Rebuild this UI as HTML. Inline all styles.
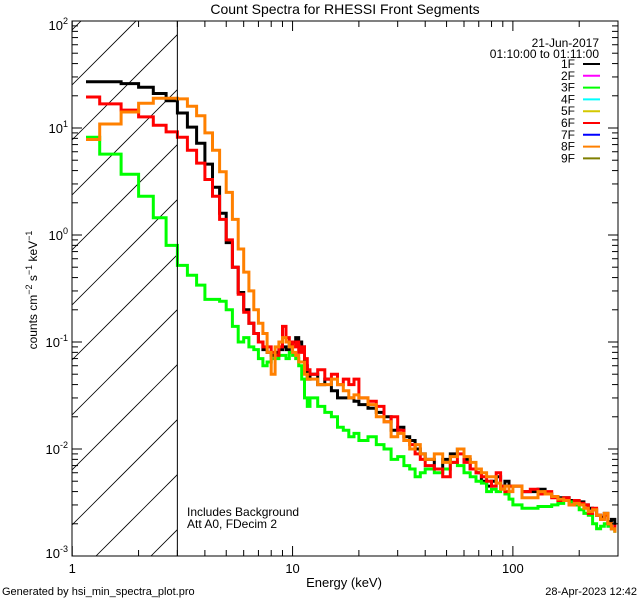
<!DOCTYPE html>
<html><head><meta charset="utf-8"><style>
html,body{margin:0;padding:0;background:#fff;width:640px;height:600px;overflow:hidden;}
svg{display:block;font-family:"Liberation Sans",sans-serif;}
</style></head><body>
<svg id="chart" width="640" height="600" viewBox="0 0 640 600" xmlns="http://www.w3.org/2000/svg" overflow="hidden">
<defs><clipPath id="hclip"><rect x="72" y="21" width="105" height="535"/></clipPath>
<clipPath id="pclip"><rect x="72" y="21" width="546" height="535"/></clipPath></defs>
<rect width="640" height="600" fill="#fff"/>
<text x="345" y="14" text-anchor="middle" font-size="14">Count Spectra for RHESSI Front Segments</text>
<g id="hatch" clip-path="url(#hclip)"></g>
<g id="series" clip-path="url(#pclip)"></g>
<g id="axes"></g>
<text x="599" y="47" text-anchor="end" font-size="12">21-Jun-2017</text>
<text x="599" y="58" text-anchor="end" font-size="12">01:10:00 to 01:11:00</text>
<g id="legend"></g>
<text x="187" y="516" font-size="12">Includes Background</text>
<text x="187" y="528" font-size="12">Att A0, FDecim 2</text>
<text x="344" y="587" text-anchor="middle" font-size="13">Energy (keV)</text>
<text transform="translate(37,290) rotate(-90)" text-anchor="middle" font-size="12">counts cm<tspan dy="-5" font-size="9">−2</tspan><tspan dy="5"> s</tspan><tspan dy="-5" font-size="9">−1</tspan><tspan dy="5"> keV</tspan><tspan dy="-5" font-size="9">−1</tspan></text>
<text x="2" y="595" font-size="11">Generated by hsi_min_spectra_plot.pro</text>
<text x="637" y="595" text-anchor="end" font-size="11">28-Apr-2023 12:42</text>
</svg>
<script>
const edges=[1,1.333,1.667,2,2.333,2.667,3,3.333,3.667,4,4.333,4.667,5,5.333,5.667,6,6.333,6.667,7,7.333,7.667,8,8.333,8.667,9,9.333,9.667,10,10.333,10.667,11,11.333,11.667,12,
13,14,15,16,17,18,19,20,22,24,26,28,30,32,34,36,38,40,44,48,52,56,60,64,68,72,76,80,84,88,92,96,100,
110,120,130,140,150,160,170,180,190,200,210,220,230,240,250,260,270,280,290,300];
const seriesNames=["1F","2F","3F","4F","5F","6F","7F","8F","9F"];
const seriesColors=["#000","#ff00ff","#00ff00","#00ffff","#d4c800","#ff0000","#0000ff","#ff8000","#7f7f00"];
const black=[27,27,26,24,21,18,13.8,10.2,7.2,4.6,2.8,1.6,0.85,0.5,0.29,0.2,0.15,0.12,0.1,0.085,0.08,0.075,0.08,0.085,0.09,0.085,0.095,0.1,0.11,0.1,0.09,0.06,0.045,
0.05,0.04,0.045,0.035,0.03,0.03,0.03,0.028,
0.026,0.024,0.022,0.02,0.015,0.016,0.013,0.012,0.01,0.009,
0.008,0.0065,0.008,0.009,0.01,0.008,0.0065,0.006,0.005,0.0045,0.005,0.0055,0.0045,0.005,0.0045,
0.0045,0.004,0.004,0.0042,0.0038,0.0036,0.0035,0.0035,0.0033,0.003,0.0032,0.003,0.0028,0.0027,0.0024,0.0023,0.0025,0.0021,0.0022,0.002];
const green=[8.2,5.7,3.7,2.3,1.45,0.8,0.52,0.42,0.34,0.25,0.25,0.24,0.2,0.14,0.1,0.11,0.09,0.085,0.07,0.06,0.065,0.07,0.07,0.075,0.075,0.07,0.08,0.075,0.07,0.06,0.045,0.03,0.025,
0.03,0.025,0.022,0.02,0.016,0.015,0.013,0.014,
0.012,0.013,0.011,0.01,0.008,0.0085,0.007,0.0065,0.0055,0.006,
0.0065,0.006,0.0065,0.0075,0.007,0.006,0.0055,0.005,0.0048,0.004,0.0042,0.004,0.0045,0.0038,0.0034,
0.003,0.0028,0.0028,0.0029,0.0029,0.003,0.0031,0.0033,0.0032,0.003,0.0027,0.0025,0.0024,0.002,0.0018,0.0019,0.002,0.0019,0.0018,0.0017];
const red=[19.5,16.8,14.7,12.7,10.6,9.2,8.2,6.2,4.7,3.3,2.3,1.4,0.9,0.5,0.28,0.19,0.15,0.12,0.1,0.09,0.09,0.08,0.075,0.09,0.14,0.11,0.1,0.09,0.1,0.08,0.09,0.07,0.055,
0.05,0.055,0.045,0.05,0.04,0.045,0.04,0.045,
0.03,0.028,0.025,0.018,0.02,0.015,0.012,0.011,0.009,0.008,
0.007,0.0065,0.0055,0.0075,0.009,0.0075,0.0065,0.006,0.0055,0.005,0.0045,0.006,0.0045,0.004,0.0045,
0.0045,0.004,0.0042,0.0038,0.004,0.0035,0.0033,0.0035,0.003,0.0033,0.0031,0.003,0.0025,0.0028,0.0024,0.0022,0.0024,0.002,0.0018,0.0019];
const orange=[7.8,10.9,14.1,17,19,19,18.7,16,13,9,6.2,3.9,2.5,1.4,0.74,0.45,0.3,0.2,0.15,0.12,0.08,0.05,0.09,0.1,0.11,0.1,0.09,0.08,0.075,0.065,0.065,0.05,0.045,
0.045,0.04,0.04,0.045,0.04,0.035,0.03,0.032,
0.03,0.026,0.02,0.018,0.013,0.014,0.012,0.01,0.011,0.009,
0.008,0.009,0.0075,0.0085,0.01,0.0085,0.0075,0.0065,0.006,0.0055,0.0055,0.0048,0.0042,0.0045,0.004,
0.0045,0.0035,0.0035,0.004,0.0038,0.0036,0.0034,0.0033,0.003,0.0031,0.003,0.0028,0.0026,0.0027,0.0024,0.0022,0.0025,0.002,0.0018,0.0017];
const plotted=[{name:"1F",vals:black,color:"#000"},{name:"3F",vals:green,color:"#00ff00"},{name:"6F",vals:red,color:"#ff0000"},{name:"8F",vals:orange,color:"#ff8000"}];
const xTicks=[1,10,100];const xTickLabels=["1","10","100"];
const yTickExps=[-3,-2,-1,0,1,2];
const attenEdge=3;

const X0=72,X1=618,Y0=21,Y1=556;
const xmin=Math.log10(0.9975),xmax=Math.log10(300);
const ymin=-3,ymax=2;
const sx=e=>X0+(Math.log10(e)-xmin)/(xmax-xmin)*(X1-X0);
const sy=v=>Y1-(Math.log10(v)-ymin)/(ymax-ymin)*(Y1-Y0);
const NS="http://www.w3.org/2000/svg";
function mk(tag,attrs,parent){const el=document.createElementNS(NS,tag);for(const k in attrs)el.setAttribute(k,attrs[k]);parent.appendChild(el);return el;}

const hatch=document.getElementById('hatch');
for(let i=-2;i<12;i++){const y=85+i*55;
 const l=mk('line',{x1:X0,y1:y,x2:X0+110,y2:y-110,stroke:'#000','stroke-width':0.8},hatch);
 
 }
const ax=document.getElementById('axes');
const vl=mk('line',{x1:sx(attenEdge),y1:Y0,x2:sx(attenEdge),y2:Y1,stroke:'#000','stroke-width':1},ax);



const sg=document.getElementById('series');
plotted.forEach(s=>{
 let d='';
 for(let i=0;i<s.vals.length;i++){
  const c0=Math.sqrt(edges[i]*edges[i+1]);
  const xa=i===0?sx(c0):sx(edges[i]);
  const xb=i===s.vals.length-1?sx(c0):sx(edges[i+1]);
  const y=sy(s.vals[i]);
  d+=(i===0?'M':'L')+xa.toFixed(1)+','+y.toFixed(1)+'L'+xb.toFixed(1)+','+y.toFixed(1);
 }
 const p=mk('path',{d:d,fill:'none',stroke:s.color,'stroke-width':3,'stroke-linejoin':'miter'},sg);
 
 
});

const fr=mk('rect',{x:X0,y:Y0,width:X1-X0,height:Y1-Y0,fill:'none',stroke:'#000','stroke-width':1},ax);


for(let dec=0;dec<=2;dec++){for(let m=1;m<=9;m++){const e=m*Math.pow(10,dec);if(e>300)break;
 const x=sx(e);const len=m===1?10:6;
 const t1=mk('line',{x1:x,y1:Y1,x2:x,y2:Y1-len,stroke:'#000'},ax);
 
 
 const t2=mk('line',{x1:x,y1:Y0,x2:x,y2:Y0+len,stroke:'#000'},ax);
 
 }}
xTicks.forEach((e,i)=>{const t=mk('text',{x:sx(e),y:Y1+17,'text-anchor':'middle','font-size':13},ax);t.textContent=xTickLabels[i];
 
 });
yTickExps.forEach(p=>{for(let m=1;m<=9;m++){if(p===2&&m>1)break;const v=m*Math.pow(10,p);const y=sy(v);const len=m===1?10:6;
 const a=mk('line',{x1:X0,y1:y,x2:X0+len,y2:y,stroke:'#000'},ax);
 
 
 const b=mk('line',{x1:X1,y1:y,x2:X1-len,y2:y,stroke:'#000'},ax);
 
 }
 const t=mk('text',{x:X0-4,y:sy(Math.pow(10,p))+5,'text-anchor':'end','font-size':13},ax);
 
 
 t.innerHTML='10<tspan dy="-6" font-size="9">'+p+'</tspan>';
 if(p===2)t.setAttribute('y',sy(100)+9);
 if(p===-3)t.setAttribute('y',sy(0.001)+2);
});
const lg=document.getElementById('legend');
seriesNames.forEach((n,i)=>{const y=68+i*11.8;
 const t=mk('text',{x:575,y:y,'text-anchor':'end','font-size':12},lg);t.textContent=n;
 
 
 const l=mk('line',{x1:583,y1:y-4,x2:600,y2:y-4,stroke:seriesColors[i],'stroke-width':2},lg);
 
 });
</script>
</body></html>
